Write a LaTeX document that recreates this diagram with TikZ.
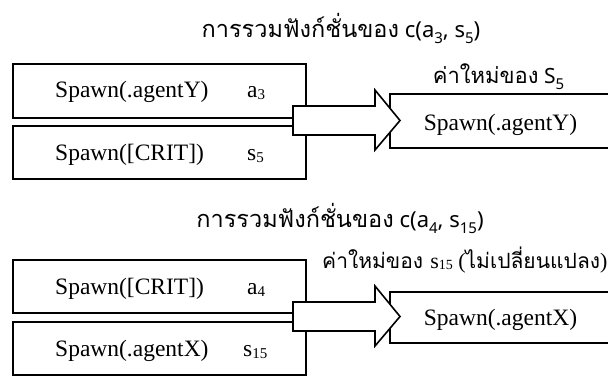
\documentclass[tikz,border=0pt]{standalone}
\usepackage{fontspec}
\setmainfont{Liberation Serif}
\newfontfamily\thai[Script=Thai]{Loma}
\newfontfamily\lat{Noto Sans}
\newfontfamily\tms{Liberation Serif}
\begin{document}
\begin{tikzpicture}[x=1pt,y=-1pt,
  box/.style={draw=black,line width=1.6pt,fill=white,rectangle,inner sep=0pt},
  blockarrow/.style={draw=black,line width=1.6pt,fill=white,line join=miter},
  boxtext/.style={font=\fontsize{23.5}{26}\selectfont,inner sep=0pt},
  idx/.style={font=\fontsize{23.5}{26}\selectfont,inner sep=0pt},
  title/.style={font=\thai\fontsize{23.5}{26}\selectfont,inner sep=0pt},
  newval/.style={font=\thai\fontsize{22}{26}\selectfont,inner sep=0pt}]
\newcommand{\subsm}[1]{\raisebox{-0.12em}{\fontsize{15}{15}\selectfont #1}}
\newcommand{\subth}[1]{\raisebox{-0.3em}{\fontsize{15}{15}\selectfont #1}}
\newcommand{\latpart}[1]{{\lat\fontsize{22}{26}\selectfont #1}}
\useasboundingbox (0,0) rectangle (608,376);

% ---- first combination: c(a3, s5)
\node[title,anchor=base] (t1) at (341,37) {การรวมฟังก์ชั่นของ\hspace{0.25em}\latpart{c(a\subth{3}, s\subth{5})}};
\node[box,minimum width=293,minimum height=54] (b1) at (159.5,91) {};
\node[box,minimum width=293,minimum height=53] (b2) at (159.5,152.5) {};
\node[box,minimum width=260,minimum height=54] (r1) at (520,121) {};
\draw[blockarrow] (293,106) -- (375,106) -- (375,90) -- (400,120.5) -- (375,150) -- (375,135) -- (293,135) -- cycle;
\node[boxtext,anchor=base west] (b1t) at (55,97) {Spawn(.agentY)};
\node[idx,anchor=base west] (b1i) at (247,97) {a\subsm{3}};
\node[boxtext,anchor=base west] (b2t) at (55,160) {Spawn([CRIT])};
\node[idx,anchor=base west] (b2i) at (247,160) {s\subsm{5}};
\node[boxtext,anchor=base] (r1t) at (500.5,130) {Spawn(.agentY)};
\node[newval,anchor=base] (l1) at (498.5,83) {ค่าใหม่ของ\hspace{0.25em}{\lat\fontsize{21}{24}\selectfont S\subth{5}}};

% ---- second combination: c(a4, s15)
\node[title,anchor=base] (t2) at (340,227) {การรวมฟังก์ชั่นของ\hspace{0.25em}\latpart{c(a\subth{4}, s\subth{15})}};
\node[box,minimum width=293,minimum height=53] (b3) at (159.5,286.5) {};
\node[box,minimum width=293,minimum height=53] (b4) at (159.5,348.5) {};
\node[box,minimum width=260,minimum height=51] (r2) at (520,317.5) {};
\draw[blockarrow] (293,302) -- (375,302) -- (375,286) -- (400,316.5) -- (375,346) -- (375,331) -- (293,331) -- cycle;
\node[boxtext,anchor=base west] (b3t) at (55,294) {Spawn([CRIT])};
\node[idx,anchor=base west] (b3i) at (247,294) {a\subsm{4}};
\node[boxtext,anchor=base west] (b4t) at (55,356) {Spawn(.agentX)};
\node[idx,anchor=base west] (b4i) at (243,356) {s\subsm{15}};
\node[boxtext,anchor=base] (r2t) at (500.5,325) {Spawn(.agentX)};
\node[anchor=base west,inner sep=0pt,font=\thai\fontsize{21}{24}\selectfont] (l2) at (322,268)
  {ค่าใหม่ของ {\tms\fontsize{22}{24}\selectfont s{\fontsize{14}{14}\selectfont\raisebox{-0.1em}{15}} (}ไม่เปลี่ยนแปลง{\tms\fontsize{22}{24}\selectfont )}};
\end{tikzpicture}
\end{document}
